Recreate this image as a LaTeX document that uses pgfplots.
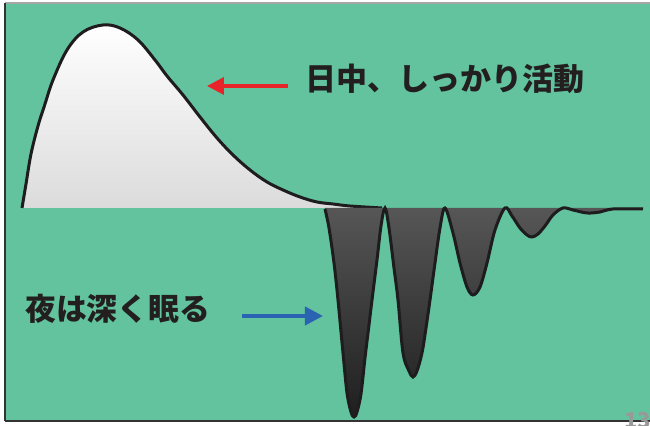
\documentclass[border=0pt]{standalone}
\usepackage{pgfplots}
\pgfplotsset{compat=1.18}
\usepackage{pgfplotstable}
\usepackage{fontspec}
\newfontfamily\cjk{Noto Sans CJK JP}
\usetikzlibrary{arrows.meta}

\definecolor{bggreen}{RGB}{98,195,158}
\definecolor{inkdark}{RGB}{30,28,30}
\definecolor{txtdark}{RGB}{35,31,32}
\definecolor{arrred}{RGB}{232,35,42}
\definecolor{arrblue}{RGB}{43,99,179}

% x = pixel column, h = height above the baseline (pixels)
\pgfplotstableread{
x h
22 0
26 24
31 54
38 82
45 104
53 128
67 158
83 176
103 183
120 180
138 168
155 148
167 132
183 113
200 91
217 70
233 53
250 38
267 26
283 18
300 11
317 6
333 4
350 2
382 0
}\daytable

\pgfplotstableread{
x h
325 -1
329 -20
334 -55
338 -92
343 -145
347 -185
351 -204
354 -209
357 -204
361 -186
365 -150
369 -117
372 -92
377 -52
381 -18
385 0
389 -20
394 -60
398 -92
403 -145
409 -163
413 -169
417 -163
422 -145
426 -120
430 -92
435 -55
440 -20
445 0
453 -25
460 -55
467 -79
473 -87
480 -79
487 -55
495 -22
505 0
512 -8
520 -20
527 -27
532 -29
538 -26
545 -18
553 -7
563 0
573 -2
587 -5
600 -4
613 -1
643 -1
}\nighttable

\begin{document}
\begin{tikzpicture}
% slide background
\fill[bggreen] (2.5pt,2.5pt) rectangle (325pt,211.5pt);
\draw[gray!70, line width=0.6pt] (2.5pt,211.5pt) -- (325pt,211.5pt);
\draw[black!80, line width=0.6pt] (2.5pt,2.5pt) -- (2.5pt,211.5pt);
\draw[black!80, line width=0.6pt] (2.5pt,2.5pt) -- (325pt,2.5pt);

\begin{axis}[
  scale only axis,
  width=325pt, height=213pt,
  xmin=0, xmax=650, ymin=-218, ymax=208,
  axis lines=none,
  clip=false,
]
  \addplot[draw=none, top color=white, bottom color=black!14, smooth,
           tension=0.6]
    table[x=x, y=h] {\daytable} \closedcycle;
  \addplot[inkdark, line width=1.5pt, smooth, tension=0.6]
    table[x=x, y=h] {\daytable};
  \addplot[draw=none, top color=black!66, bottom color=black!88, smooth,
           tension=0.55]
    table[x=x, y=h] {\nighttable} \closedcycle;
  \addplot[inkdark, line width=1.5pt, smooth, tension=0.55]
    table[x=x, y=h] {\nighttable};
\end{axis}

% annotations, in pixel units of the slide
\begin{scope}[x=0.5pt, y=-0.5pt, shift={(0,213pt)}]
  \draw[arrred, line width=1.8pt, -{Triangle[length=8.5pt, width=8.5pt]}]
    (288,86) -- (207,86);
  \draw[arrblue, line width=2pt, -{Triangle[length=9pt, width=9pt]}]
    (242,316) -- (323,316);
  \node[anchor=base west, inner sep=0pt, text=txtdark,
        font=\cjk\bfseries\fontsize{15.5}{18}\selectfont]
    at (305,91) {日中、しっかり活動};
  \node[anchor=base west, inner sep=0pt, text=txtdark,
        font=\cjk\bfseries\fontsize{15.4}{18}\selectfont]
    at (25,321) {夜は深く眠る};
  \node[anchor=base west, inner sep=0pt, text=black!40,
        font=\cjk\bfseries\fontsize{11}{13}\selectfont]
    at (624,429) {13};
\end{scope}

\pgfresetboundingbox
\path (0,0) rectangle (325pt,213pt);
\end{tikzpicture}
\end{document}
